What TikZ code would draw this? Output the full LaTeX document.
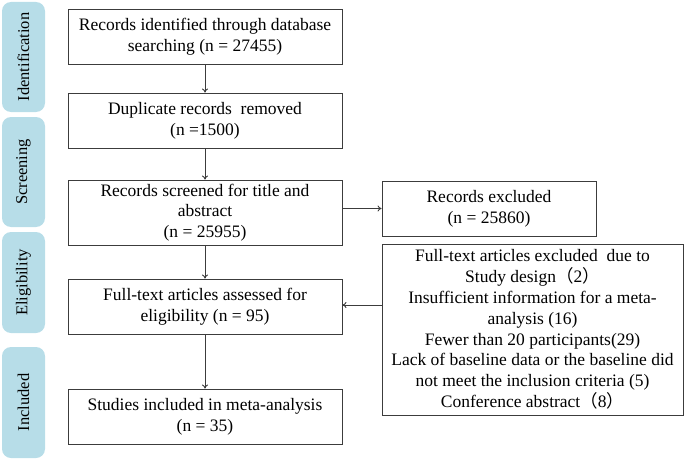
\documentclass[tikz,border=0pt]{standalone}
\usepackage{fontspec}
\setmainfont{Liberation Serif}
\newfontfamily\cjk{Noto Sans CJK SC}
\usetikzlibrary{arrows.meta}
\definecolor{tabblue}{RGB}{183,221,232}
\definecolor{linegray}{RGB}{60,60,60}
\newcommand{\fl}{{\cjk （}}
\newcommand{\fr}{{\cjk ）}}
\begin{document}
\begin{tikzpicture}[x=1pt,y=-1pt,
  every node/.style={font=\fontsize{17.5}{20.8}\selectfont},
  box/.style={draw=linegray, line width=0.9pt, align=center, inner sep=0pt},
  tab/.style={fill=tabblue, rounded corners=9pt, minimum width=43pt, inner sep=0pt},
  tabtext/.style={rotate=90, font=\fontsize{16.5}{19}\selectfont},
  arr/.style={-{To[length=4pt,width=6pt]}, draw=linegray, line width=0.9pt}]
\useasboundingbox (0,0) rectangle (685,460);
% side tabs
\node[tab, minimum height=110pt] (t1) at (23.5,57) {};
\node[tabtext] (t1t) at (t1.center) {Identification};
\node[tab, minimum height=110pt] (t2) at (23.5,172) {};
\node[tabtext] (t2t) at (t2.center) {Screening};
\node[tab, minimum height=101pt] (t3) at (23.5,282.5) {};
\node[tabtext] (t3t) at (t3.center) {Eligibility};
\node[tab, minimum height=111pt] (t4) at (23.5,402.5) {};
\node[tabtext] (t4t) at (t4.center) {Included};
% main column
\node[box, minimum width=274pt, minimum height=55pt] (b1) at (205,36.5) {Records identified through database\\searching (n = 27455)};
\node[box, minimum width=274pt, minimum height=55pt] (b2) at (205,120.5) {Duplicate records\ \ removed\\(n =1500)};
\node[box, minimum width=274pt, minimum height=65pt] (b3) at (205,212.5) {Records screened for title and\\abstract\\(n = 25955)};
\node[box, minimum width=274pt, minimum height=55pt] (b4) at (205,306.5) {Full-text articles assessed for\\eligibility (n = 95)};
\node[box, minimum width=274pt, minimum height=55pt] (b5) at (205,416.5) {Studies included in meta-analysis\\(n = 35)};
% right column
\node[box, minimum width=214pt, minimum height=55pt] (e1) at (489,208.5) {Records excluded\\(n = 25860)};
\node[box, minimum width=301pt, minimum height=171pt] (e2) at (532.5,329.5) {Full-text articles excluded\ \ due to\\Study design\fl 2\fr\\Insufficient information for a meta-\\analysis (16)\\Fewer than 20 participants(29)\\Lack of baseline data or the baseline did\\not meet the inclusion criteria (5)\\Conference abstract\fl 8\fr};
% arrows
\draw[arr] (b1) -- (b2);
\draw[arr] (b2) -- (b3);
\draw[arr] (b3) -- (b4);
\draw[arr] (b4) -- (b5);
\draw[arr] (e1.west -| b3.east) -- (e1.west);
\draw[arr] (e2.west |- 0,305) -- (b4.east |- 0,305);
\end{tikzpicture}
\end{document}
